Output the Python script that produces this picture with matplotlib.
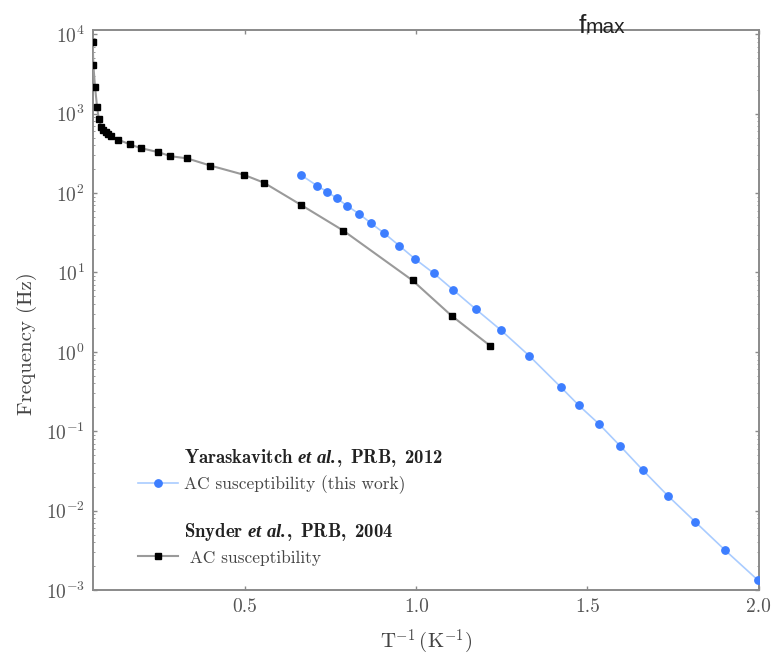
import matplotlib
matplotlib.use("Agg")
import matplotlib.pyplot as plt
from matplotlib.lines import Line2D
from matplotlib.ticker import LogLocator, FixedLocator

plt.rcParams['font.family'] = ['cmr10', 'DejaVu Serif']
plt.rcParams['mathtext.fontset'] = 'custom'
plt.rcParams['mathtext.rm'] = 'cmr10'
plt.rcParams['mathtext.bf'] = 'cmb10'
plt.rcParams['mathtext.it'] = 'cmmi10'
plt.rcParams['mathtext.bfit'] = 'Liberation Serif:italic:bold'
plt.rcParams['mathtext.fallback'] = 'cm'
plt.rcParams['axes.formatter.use_mathtext'] = True

# Snyder et al. 2004 (black)
snyder_x = [0.055, 0.057, 0.062, 0.068, 0.073, 0.080, 0.086, 0.093, 0.100, 0.108,
            0.130, 0.164, 0.195, 0.247, 0.282, 0.331, 0.398, 0.496, 0.555, 0.663,
            0.787, 0.989, 1.103, 1.216]
snyder_y = [8070, 4060, 2160, 1200, 853, 684, 620, 585, 552, 521,
            469, 409, 368, 327, 291, 273, 222, 170, 135, 71,
            33.6, 7.94, 2.85, 1.19]

# Yaraskavitch et al. 2012 (blue)
yara_x = [0.664, 0.711, 0.739, 0.768, 0.798, 0.832, 0.867, 0.907, 0.951, 0.997,
          1.051, 1.107, 1.173, 1.247, 1.330, 1.422, 1.475, 1.534, 1.595, 1.661,
          1.734, 1.815, 1.901, 1.997]
yara_y = [168, 123, 104, 86, 69, 55, 42, 31, 21.6, 14.7,
          9.77, 6.07, 3.47, 1.88, 0.89, 0.36, 0.211, 0.123, 0.0655, 0.0326,
          0.0155, 0.0072, 0.0032, 0.00134]

x_ticks = [0.5, 1.0, 1.5, 2.0]
x_ticklabels = ['0.5', '1.0', '1.5', '2.0']
y_ticks = [1e-3, 1e-2, 1e-1, 1e0, 1e1, 1e2, 1e3, 1e4]

fig = plt.figure(figsize=(7.75, 6.63), dpi=100)
ax = fig.add_axes([0.12, 0.110, 0.859, 0.845])

blue_line, = ax.plot(yara_x, yara_y, color='#a9ccff', lw=1.2, marker='o',
                     markersize=5.3, markerfacecolor='#3d7eff',
                     markeredgecolor='#3d7eff', zorder=3)
black_line, = ax.plot(snyder_x, snyder_y, color='#9a9a9a', lw=1.5, marker='s',
                      markersize=4.3, markerfacecolor='black',
                      markeredgecolor='black', zorder=3)

ax.set_yscale('log')
ax.set_xlim(0.056, 2.0)
ax.set_ylim(1e-3, 10**4.055)
ax.xaxis.set_major_locator(FixedLocator(x_ticks))
ax.set_xticklabels(x_ticklabels)
ax.yaxis.set_major_locator(FixedLocator(y_ticks))
ax.yaxis.set_minor_locator(LogLocator(base=10, subs=range(2, 10), numticks=20))

for s in ax.spines.values():
    s.set_color('#8a8a8a')
    s.set_linewidth(1.4)

ax.tick_params(which='both', direction='in', top=True, right=True,
               colors='#8a8a8a', labelcolor='#555555')
ax.tick_params(which='major', length=3, width=1, labelsize=14, pad=6)
ax.tick_params(which='minor', length=1.5, width=0.6)
ax.tick_params(axis='x', which='minor', bottom=False, top=False)

ax.set_xlabel(r'$\mathrm{T}^{-1}\,(\mathrm{K}^{-1})$', fontsize=15,
              color='#444444', labelpad=8)
ax.set_ylabel('Frequency (Hz)', fontsize=15, color='#444444')
ax.yaxis.set_label_coords(-0.084, 0.44)

fig.text(0.747, 0.950, 'f', fontsize=19, family='Liberation Sans',
         color='#222222', va='baseline', ha='left')
fig.text(0.756, 0.950, 'max', fontsize=15, family='Liberation Sans',
         color='#222222', va='baseline', ha='left')

blank = Line2D([], [], color='none', marker=None)
hdr1 = r'$\mathbf{Yaraskavitch}\ \mathbfit{et\ al.}\!\mathbf{,\ PRB,\ 2012}$'
hdr2 = r'$\mathbf{Snyder}\ \mathbfit{et\ al.}\!\mathbf{,\ PRB,\ 2004}$'
leg = ax.legend(handles=[blank, blue_line, blank, blank, black_line],
                labels=[hdr1, 'AC susceptibility (this work)', ' ', hdr2,
                        ' AC susceptibility'],
                loc='upper left', bbox_to_anchor=(0.067, 0.256),
                frameon=False, fontsize=12.5, handlelength=2.3,
                handletextpad=0.35, labelspacing=0.36, borderpad=0,
                borderaxespad=0, numpoints=1)
for t in leg.get_texts():
    t.set_color('#444444')
for i in (0, 3):
    leg.get_texts()[i].set_color('#222222')
    leg.get_texts()[i].set_fontsize(13.5)

fig.savefig('out.png', dpi=100)
